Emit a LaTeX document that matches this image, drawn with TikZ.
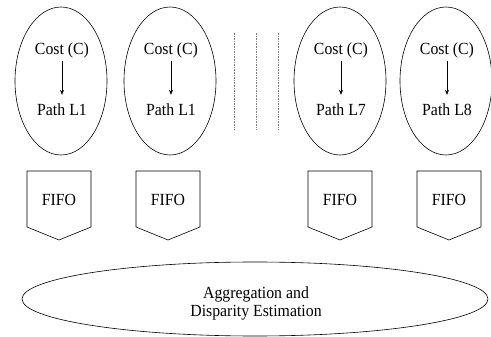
\documentclass[tikz,border=0pt]{standalone}
\usepackage{fontspec}
\setmainfont{Liberation Serif}[FakeStretch=0.93]
\usetikzlibrary{shapes.geometric,arrows.meta}
\begin{document}
\begin{tikzpicture}[x=1pt,y=-1pt,
    txt/.style={font=\fontsize{17}{18}\selectfont,inner sep=0pt,text height=12pt,text depth=4pt},
    pathell/.style={draw,ellipse,line width=0.6pt,inner sep=0pt,minimum width=92pt,minimum height=148pt},
    fifoline/.style={line width=0.6pt,line join=miter},
    costarrow/.style={-{Stealth[length=5pt,width=4pt]},line width=0.5pt,shorten <=2pt,shorten >=9pt},
    sepline/.style={gray,line width=0.7pt,dash pattern=on 1.6pt off 1pt}]
\useasboundingbox (0,0) rectangle (491,337);

% Drawing path ellipses
\foreach \i/\x/\p in {1/61/L1,2/170/L1,3/340/L7,4/446/L8}{%
  \node [pathell] (ell\i) at (\x,81) {};
  \node [txt] (cost\i) at (\x+1,51) {Cost (C)};
  \node [txt] (path\i) at (\x+1,112) {Path \p};
  \draw [costarrow] (cost\i) -- (path\i);
}

% Drawing dashed separators
\foreach \x in {234,256,278}
  \draw [sepline] (\x,33) -- (\x,130);

% Drawing FIFO blocks
\foreach \i/\x in {1/59,2/168,3/340,4/449}{%
  \draw [fifoline] (\x-32,171) -- (\x+32,171) -- (\x+32,227) -- (\x,240)
    -- (\x-32,227) -- cycle;
  \node [txt] (fifo\i) at (\x,201.5) {FIFO};
}

% Drawing aggregation ellipse
\node [draw,ellipse,line width=0.6pt,inner sep=0pt,minimum width=466pt,minimum height=74pt]
  (aggell) at (255,299) {};
\node [font=\fontsize{17}{18}\selectfont,align=center,inner sep=0pt]
  (agg) at (256,303.5) {Aggregation and\\Disparity Estimation};
\end{tikzpicture}
\end{document}
